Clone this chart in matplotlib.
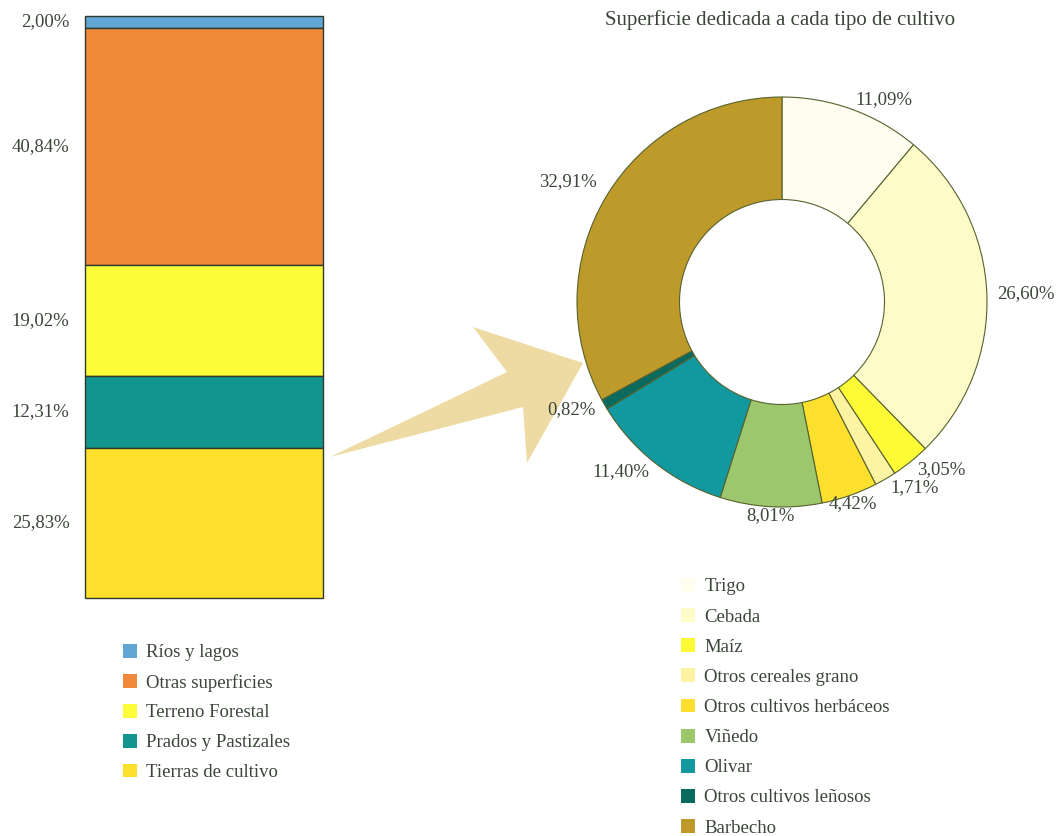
import numpy as np
import matplotlib
matplotlib.use("Agg")
import matplotlib.pyplot as plt
from matplotlib.patches import Patch, Polygon

# left stacked bar (top to bottom)
usos = ["Ríos y lagos", "Otras superficies", "Terreno Forestal", "Prados y Pastizales", "Tierras de cultivo"]
usos_pct = [2.00, 40.84, 19.02, 12.31, 25.83]
usos_txt = ["2,00%", "40,84%", "19,02%", "12,31%", "25,83%"]
usos_col = ["#62a6d6", "#f08a3a", "#fefd3a", "#13958f", "#fde02c"]

# donut, clockwise from the top
cultivos = ["Trigo", "Cebada", "Maíz", "Otros cereales grano", "Otros cultivos herbáceos",
            "Viñedo", "Olivar", "Otros cultivos leñosos", "Barbecho"]
cultivos_pct = [11.09, 26.60, 3.05, 1.71, 4.42, 8.01, 11.40, 0.82, 32.91]
cultivos_txt = ["11,09%", "26,60%", "3,05%", "1,71%", "4,42%", "8,01%", "11,40%", "0,82%", "32,91%"]
cultivos_col = ["#fefdf0", "#fdfcc8", "#fefb36", "#fcf4a2", "#fde02e",
                "#9dc76c", "#12989f", "#0b6a5e", "#be9a2a"]

titulo = "Superficie dedicada a cada tipo de cultivo"

W, H = 1058, 836
txtc = "#3a4638"
edge = "#56622e"
fs = 13.5

plt.rcParams['font.family'] = ['Liberation Serif', 'DejaVu Serif']
plt.rcParams['font.size'] = fs

fig = plt.figure(figsize=(W / 100, H / 100), dpi=100)

def fx(x, y):
	return (x / W, 1 - y / H)

#stacked bar
axb = fig.add_axes([85 / W, (H - 598) / H, 238 / W, 582 / H])
bottoms = np.concatenate([[0], np.cumsum(usos_pct)[:-1]])
bars = axb.bar(np.zeros(len(usos_pct)), usos_pct, width=1, bottom=bottoms, color=usos_col,
               edgecolor="#2f3a2c", linewidth=1)
for b in bars:
	b.set_clip_on(False)
axb.set_xlim(-0.5, 0.5)
axb.set_ylim(sum(usos_pct), 0)
axb.axis("off")
for b, v, t in zip(bottoms, usos_pct, usos_txt):
	axb.text(-0.565, b + v / 2, t, ha="right", va="center", color=txtc, fontsize=fs)

#donut
axp = fig.add_axes([(782 - 205) / W, (H - 302 - 205) / H, 410 / W, 410 / H])
wedges, texts = axp.pie(cultivos_pct, labels=cultivos_txt, colors=cultivos_col, startangle=90,
                        counterclock=False, labeldistance=1.05,
                        wedgeprops=dict(width=0.5, edgecolor=edge, linewidth=0.8),
                        textprops=dict(color=txtc, fontsize=fs))
for w, t in zip(wedges, texts):
	ang = np.deg2rad((w.theta1 + w.theta2) / 2)
	x, y = t.get_position()
	if np.sin(ang) < 0 and abs(np.cos(ang)) < 0.35:
		t.set_ha("center")
		t.set_va("top")
		t.set_position((x, y + 0.05))
	elif np.sin(ang) > 0.4 and np.cos(ang) < 0:
		t.set_position((x, y + 0.05))
axp.set_xlim(-1, 1)
axp.set_ylim(-1, 1)
axp.set_aspect("equal")

fig.text(780 / W, 1 - 20 / H, titulo, ha="center", va="center", color=txtc, fontsize=15)

#arrow, behind the donut labels
pts = [(330, 457), (507, 372), (473, 327), (583, 363), (527, 463), (523, 407)]
fig.add_artist(Polygon([fx(x, y) for x, y in pts], closed=True, transform=fig.transFigure,
                       facecolor="#eedba4", edgecolor="none", zorder=-1))

#legends
h1 = [Patch(facecolor=c, edgecolor="none") for c in usos_col]
fig.legend(h1, usos, loc="upper left", bbox_to_anchor=fx(123, 644), frameon=False,
           handlelength=0.75, handleheight=0.75, handletextpad=0.5, labelspacing=0.66,
           borderpad=0, borderaxespad=0, labelcolor=txtc, fontsize=fs)
h2 = [Patch(facecolor=c, edgecolor="none") for c in cultivos_col]
fig.legend(h2, cultivos, loc="upper left", bbox_to_anchor=fx(681, 578), frameon=False,
           handlelength=0.75, handleheight=0.75, handletextpad=0.5, labelspacing=0.68,
           borderpad=0, borderaxespad=0, labelcolor=txtc, fontsize=fs)

fig.savefig("out.png", dpi=100)
